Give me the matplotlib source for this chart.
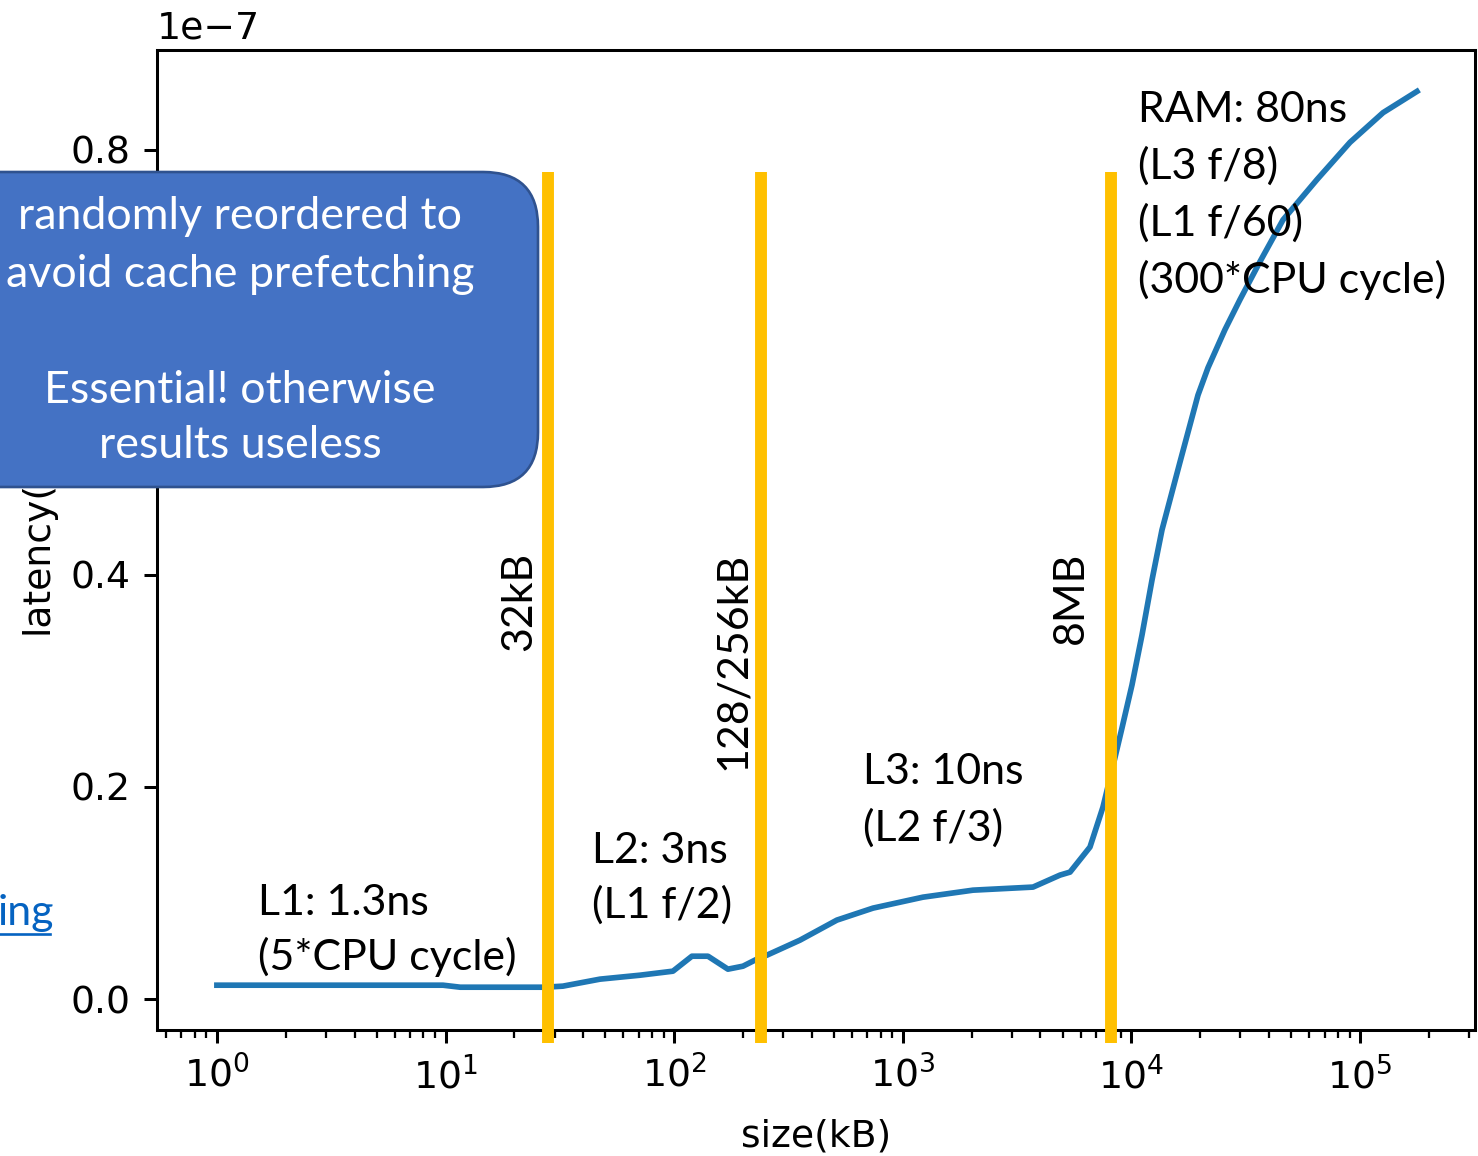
import matplotlib
matplotlib.use('Agg')
import matplotlib.pyplot as plt
from matplotlib.patches import FancyBboxPatch

# measured access latency vs working set size
size_kb = [1.0, 3.12, 9.75, 11.6, 27.2, 32.6, 47.4, 70.8, 98.8, 119.6, 140.6,
           171.9, 200, 230, 254.7, 355, 515, 741, 1225, 2028, 3713, 4873,
           5390, 6590, 7511, 8226, 9096, 10060, 11130, 12310, 13610, 16320,
           19560, 21630, 25650, 29840, 36500, 46040, 64860, 90400, 126200,
           177500]
latency_e7 = [0.0132, 0.0132, 0.0132, 0.0113, 0.0113, 0.0123, 0.0189, 0.0226,
              0.0264, 0.0405, 0.0405, 0.0283, 0.0311, 0.0377, 0.0415, 0.0556,
              0.0745, 0.0858, 0.0961, 0.1027, 0.1056, 0.1169, 0.1197, 0.1433,
              0.181, 0.2158, 0.2554, 0.2959, 0.3431, 0.3949, 0.442, 0.506,
              0.569, 0.5947, 0.6305, 0.6588, 0.6946, 0.734, 0.772, 0.807,
              0.835, 0.855]
latency = [v * 1e-7 for v in latency_e7]

# cache boundaries (kB) and their labels
cache_kb = [28.1, 239.8, 8144]
cache_labels = ['32kB', '128/256kB', '8MB']

W, H, DPI = 1478, 1156, 272
ORANGE = '#FFC000'
SLIDE_FONT = ['Lato', 'DejaVu Sans']
FS = 11.35

fig = plt.figure(figsize=(W / DPI, H / DPI), dpi=DPI)
ax = fig.add_axes([157 / W, 1 - 1030 / H, (1475 - 157) / W, (1030 - 50) / H])

ax.plot(size_kb, latency, color='#1f77b4', lw=1.5)
ax.set_xscale('log')
ax.set_xlim(10 ** -0.262, 10 ** 5.503)
ax.set_ylim(-0.029e-7, 0.894e-7)
ax.set_yticks([0.0, 0.2e-7, 0.4e-7, 0.6e-7, 0.8e-7])
ax.ticklabel_format(axis='y', style='sci', scilimits=(-7, -7))
ax.set_xlabel('size(kB)', labelpad=6)
ax.set_ylabel('latency(s)')

for x in cache_kb:
    ax.axvline(x, ymin=-0.0133, ymax=0.8755, color=ORANGE, lw=3.15,
               clip_on=False, solid_capstyle='butt', zorder=3)

# slide overlay in pixel coordinates
ov = fig.add_axes([0, 0, 1, 1], zorder=5)
ov.set_xlim(0, W)
ov.set_ylim(H, 0)
ov.axis('off')

box = FancyBboxPatch((-60, 172), 598, 315,
                     boxstyle='round,pad=0,rounding_size=55',
                     fc='#4472C4', ec='#2F528F', lw=0.7)
ov.add_patch(box)


def block(x, y0, lines, step=57, size=FS, **kw):
    for i, line in enumerate(lines):
        ov.text(x, y0 + i * step, line, fontsize=size, family=SLIDE_FONT,
                va='baseline', **kw)


block(240, 229, ['randomly reordered to', 'avoid cache prefetching'],
      step=58, size=FS * 1.045, ha='center', color='white')
block(240, 403, ['Essential! otherwise', 'results useless'],
      step=55, size=FS * 1.045, ha='center', color='white')

block(258, 915, ['L1: 1.3ns', '(5*CPU cycle)'], step=55, ha='left')
block(592, 863, ['L2: 3ns', '(L1 f/2)'], step=55, ha='left')
block(863, 784, ['L3: 10ns', '(L2 f/3)'], step=57, ha='left')
block(1138, 122, ['RAM: 80ns', '(L3 f/8)', '(L1 f/60)', '(300*CPU cycle)'],
      step=57, ha='left')

for px, label in zip([531, 745, 1083], cache_labels):
    ov.text(px, 552, label, fontsize=FS, family=SLIDE_FONT, rotation=90,
            rotation_mode='anchor', ha='right', va='baseline')

ov.text(-2, 925, 'ing', fontsize=FS, family=SLIDE_FONT, color='#0563C1',
        ha='left', va='baseline')
ov.plot([0, 50], [934, 934], color='#0563C1', lw=0.7)

fig.savefig('out.png', dpi=DPI)
